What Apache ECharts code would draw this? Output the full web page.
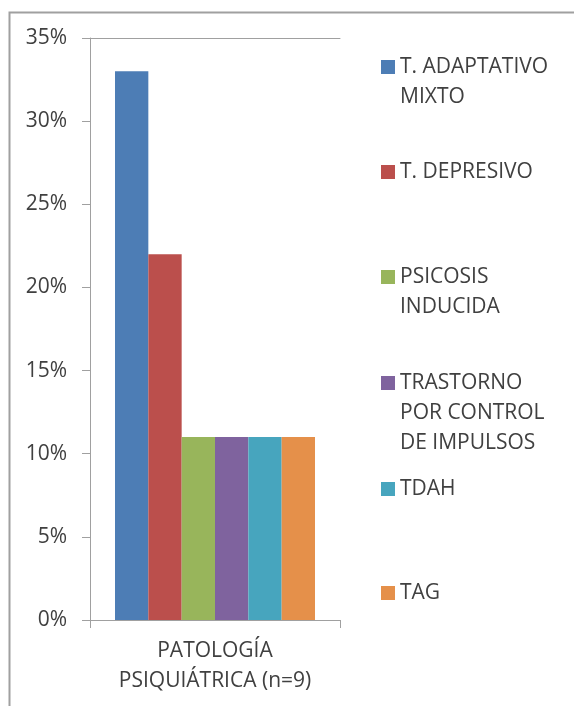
<!DOCTYPE html>
<html>
<head>
<meta charset="utf-8">
<script src="https://cdn.jsdelivr.net/npm/echarts@6/dist/echarts.min.js"></script>
<style>
  html, body { margin: 0; padding: 0; background: #fff; }
  #chart { width: 574px; height: 706px; }
</style>
</head>
<body>
<div id="chart"></div>
<script>
// data
const categories = ["PATOLOGÍA\nPSIQUIÁTRICA (n=9)"];
const seriesNames = [
  "T. ADAPTATIVO\nMIXTO",
  "T. DEPRESIVO",
  "PSICOSIS\nINDUCIDA",
  "TRASTORNO\nPOR CONTROL\nDE IMPULSOS",
  "TDAH",
  "TAG"
];
const seriesValues = [33, 22, 11, 11, 11, 11];
const colors = ["#4d7db5", "#bb4f4c", "#98b55b", "#7f639e", "#47a5be", "#e5904a"];

const textColor = "#404040";
const font = "Open Sans";
const fontSize = 21;
const lineH = 30;
// icon centre of each legend entry (evenly spread like the original)
const legendCentres = [67, 172, 277, 383, 489, 593];

let mychart = echarts.init(document.getElementById("chart"));

// icon sits on the first line: pad the label with blank lines on top
const legends = seriesNames.map((name, i) => {
  const n = name.split("\n").length;
  return {
    orient: "vertical",
    left: 381,
    top: legendCentres[i] - ((2 * n - 1) * lineH) / 2,
    padding: 0,
    itemWidth: 14,
    itemHeight: 14,
    icon: "rect",
    selectedMode: false,
    data: [name],
    formatter: (s) => "\n".repeat(n - 1) + s,
    textStyle: {
      fontFamily: font,
      fontSize: fontSize,
      color: textColor,
      lineHeight: lineH
    }
  };
});

const series = seriesNames.map((name, i) => ({
  name: name,
  type: "bar",
  barGap: "0%",
  barCategoryGap: "20%",
  itemStyle: { color: colors[i] },
  data: [seriesValues[i]]
}));

const option = {
  animation: false,
  graphic: [
    {
      type: "rect",
      left: 7,
      top: 10,
      shape: { width: 700, height: 800 },
      style: { fill: "none", stroke: "#a0a0a0", lineWidth: 2 }
    }
  ],
  legend: legends,
  grid: { left: 90, right: 234, top: 38, bottom: 86 },
  xAxis: [
    {
      type: "category",
      data: categories,
      axisLine: { lineStyle: { color: "#a0a0a0", width: 1 } },
      axisTick: { show: true, length: 8, lineStyle: { color: "#a0a0a0" } },
      axisLabel: {
        fontFamily: font,
        fontSize: fontSize,
        color: textColor,
        lineHeight: lineH,
        margin: 16
      }
    },
    {
      type: "category",
      position: "top",
      data: categories,
      axisLine: { lineStyle: { color: "#a0a0a0", width: 1 } },
      axisTick: { show: false },
      axisLabel: { show: false }
    }
  ],
  yAxis: {
    type: "value",
    min: 0,
    max: 35,
    interval: 5,
    axisLine: { show: true, lineStyle: { color: "#a0a0a0" } },
    axisTick: { show: true, length: 8, lineStyle: { color: "#a0a0a0" } },
    splitLine: { show: false },
    axisLabel: {
      formatter: "{value}%",
      fontFamily: font,
      fontSize: fontSize,
      color: textColor,
      margin: 23
    }
  },
  series: series
};
mychart.setOption(option);
</script>
</body>
</html>
